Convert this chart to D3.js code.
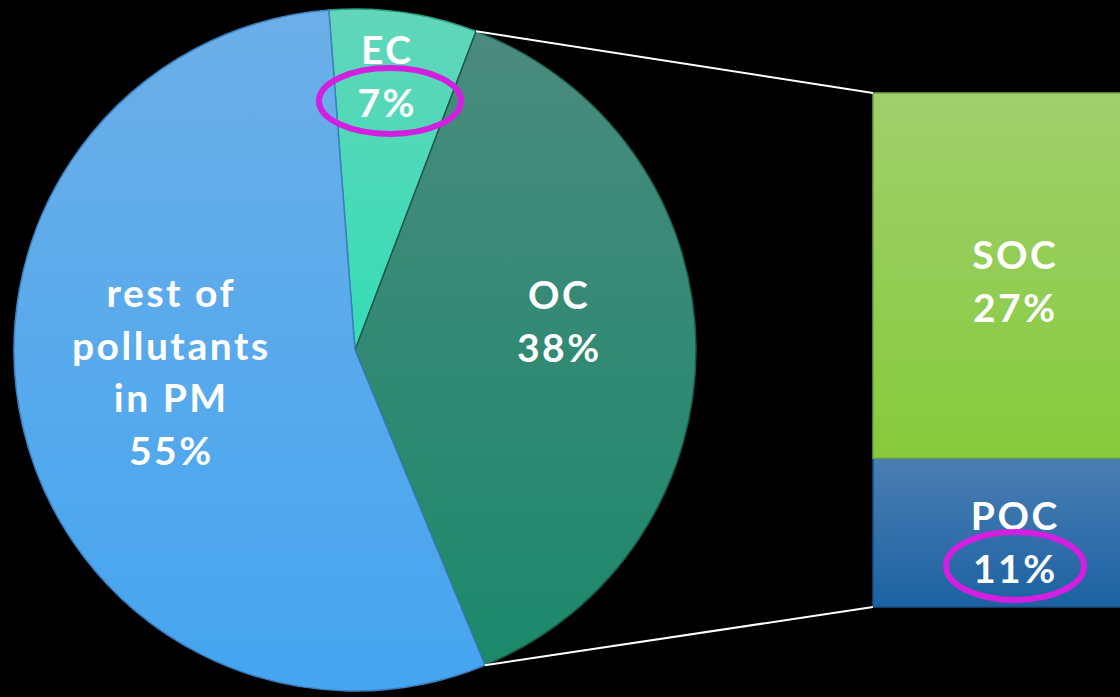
<!DOCTYPE html>
<html>
<head>
<meta charset="utf-8">
<script src="https://cdn.jsdelivr.net/npm/d3@7"></script>
<style>
  body { margin: 0; background: #000; }
  svg { display: block; }
  text { font-family: Lato, "Noto Sans", sans-serif; font-weight: 700; fill: #fff; letter-spacing: 2.5px; }
</style>
</head>
<body>
<div id="chart"></div>
<script>
"use strict";

// pie slices (share of PM)
const pieNames = ["EC", "OC", "rest of pollutants in PM"];
const pieValues = [7, 38, 55];
const pieLabels = [["EC", "7%"], ["OC", "38%"], ["rest of", "pollutants", "in PM", "55%"]];

// breakdown of OC
const barNames = ["POC", "SOC"];
const barValues = [11, 27];
const barLabels = [["POC", "11%"], ["SOC", "27%"]];

const width = 1120, height = 697;
const cx = 355, cy = 350, radius = 341;

const svg = d3.select("#chart")
    .append("svg")
    .attr("width", width)
    .attr("height", height);

const defs = svg.append("defs");

function grad(id, top, bottom) {
    const g = defs.append("linearGradient")
        .attr("id", id)
        .attr("x1", 0).attr("y1", 0).attr("x2", 0).attr("y2", 1);
    g.append("stop").attr("offset", "0%").attr("stop-color", top);
    g.append("stop").attr("offset", "100%").attr("stop-color", bottom);
}
grad("g-ec", "#62d6b9", "#34ddb6");
grad("g-oc", "#4a8b7d", "#1b896a");
grad("g-rest", "#6cafe8", "#45a5f0");
grad("g-soc", "#a0cf6c", "#86cb3c");
grad("g-poc", "#4a7eb3", "#1c62a2");

const pieFills = ["url(#g-ec)", "url(#g-oc)", "url(#g-rest)"];
const pieEdges = ["#2a9c84", "#1a5a4a", "#3b7fc0"];

const startA = -4.4 * Math.PI / 180;
const pie = d3.pie().sort(null).startAngle(startA).endAngle(startA + 2 * Math.PI);
const arcs = pie(pieValues);
const arc = d3.arc().innerRadius(0).outerRadius(radius);

const gPie = svg.append("g").attr("transform", `translate(${cx},${cy})`);

gPie.selectAll("path")
    .data(arcs)
    .join("path")
    .attr("d", arc)
    .attr("fill", (d, i) => pieFills[i])
    .attr("stroke", (d, i) => pieEdges[i])
    .attr("stroke-width", 1.5);

// bar of OC
const yScale = d3.scaleLinear().domain([0, d3.sum(barValues)]).range([607, 93]);
const barX = 873, barW = 280;
const stack = [];
let acc = 0;
barValues.forEach((v, i) => { stack.push({ name: barNames[i], y0: acc, y1: acc + v, i }); acc += v; });
const barFills = ["url(#g-poc)", "url(#g-soc)"];
const barEdges = ["#174f85", "#6fa83a"];

svg.append("g")
    .selectAll("rect")
    .data(stack)
    .join("rect")
    .attr("x", barX)
    .attr("y", d => yScale(d.y1))
    .attr("width", barW)
    .attr("height", d => yScale(d.y0) - yScale(d.y1))
    .attr("fill", d => barFills[d.i])
    .attr("stroke", d => barEdges[d.i])
    .attr("stroke-width", 1.5);

// connector lines from the OC slice to the bar
const oc = arcs[1];
const pStart = [cx + radius * Math.sin(oc.startAngle), cy - radius * Math.cos(oc.startAngle)];
const pEnd = [cx + radius * Math.sin(oc.endAngle), cy - radius * Math.cos(oc.endAngle)];
svg.append("line")
    .attr("x1", pStart[0]).attr("y1", pStart[1])
    .attr("x2", barX).attr("y2", yScale(d3.sum(barValues)))
    .attr("stroke", "#fff").attr("stroke-width", 2);
svg.append("line")
    .attr("x1", pEnd[0]).attr("y1", pEnd[1])
    .attr("x2", barX).attr("y2", yScale(0))
    .attr("stroke", "#fff").attr("stroke-width", 2);

// labels
const lineH = 52.5;
function drawLabel(lines, x, y, size) {
    const t = svg.append("text")
        .attr("text-anchor", "middle")
        .attr("font-size", size);
    lines.forEach((s, k) => {
        t.append("tspan")
            .attr("x", x + 1.25)
            .attr("y", y + k * lineH)
            .attr("dominant-baseline", "central")
            .text(s);
    });
}
drawLabel(pieLabels[0], 386, 49, 39);
drawLabel(pieLabels[1], 558, 294, 39);
drawLabel(pieLabels[2], 170, 292, 39);
drawLabel(barLabels[1], 1014, 254, 39);
drawLabel(barLabels[0], 1014, 515, 39);

// highlight ellipses
const rings = [[390, 101, 71, 33], [1015, 566, 69, 34]];
svg.append("g")
    .selectAll("ellipse")
    .data(rings)
    .join("ellipse")
    .attr("cx", d => d[0]).attr("cy", d => d[1])
    .attr("rx", d => d[2]).attr("ry", d => d[3])
    .attr("fill", "none")
    .attr("stroke", "#d21fe0")
    .attr("stroke-width", 6);
</script>
</body>
</html>
